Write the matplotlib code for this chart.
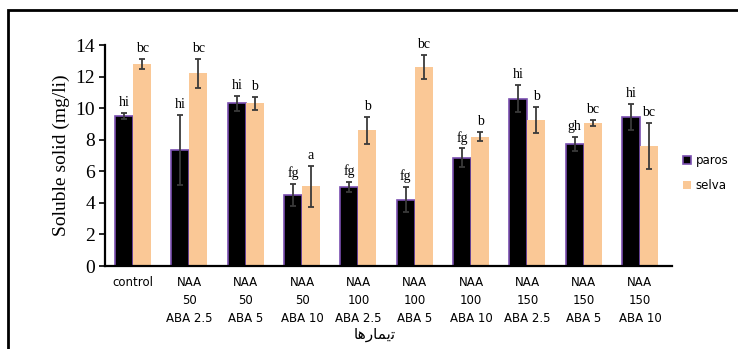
import matplotlib.pyplot as plt
from matplotlib.patches import Rectangle
import numpy as np

# data
treatments = ['control', 'NAA\n50\nABA 2.5', 'NAA\n50\nABA 5', 'NAA\n50\nABA 10',
              'NAA\n100\nABA 2.5', 'NAA\n100\nABA 5', 'NAA\n100\nABA 10',
              'NAA\n150\nABA 2.5', 'NAA\n150\nABA 5', 'NAA\n150\nABA 10']
paros = [9.5, 7.35, 10.3, 4.5, 5.0, 4.2, 6.85, 10.6, 7.75, 9.45]
paros_err = [0.2, 2.2, 0.5, 0.7, 0.3, 0.8, 0.6, 0.85, 0.45, 0.8]
selva = [12.8, 12.2, 10.3, 5.05, 8.6, 12.6, 8.2, 9.25, 9.05, 7.6]
selva_err = [0.3, 0.9, 0.4, 1.3, 0.85, 0.75, 0.3, 0.8, 0.2, 1.45]
paros_lab = ['hi', 'hi', 'hi', 'fg', 'fg', 'fg', 'fg', 'hi', 'gh', 'hi']
selva_lab = ['bc', 'bc', 'b', 'a', 'b', 'bc', 'b', 'b', 'bc', 'bc']

# pre-shaped persian "timarha" (visual order)
xtitle = '\uFE8E\uFEEB\uFEAD\uFE8E\uFEE4\uFBFE\uFE97'

fig = plt.figure(figsize=(7.38, 3.49), dpi=100)
ax = fig.add_axes([0.1423, 0.2378, 0.7683, 0.633])

x = np.arange(len(treatments))
w = 0.32
ekw = dict(ecolor='#3a3a3a', elinewidth=1.3, capsize=2.2, capthick=1.3)
ax.bar(x - w/2, paros, w, color='black', edgecolor='#7a4fb0', linewidth=1.2,
       yerr=paros_err, error_kw=ekw, label='paros', zorder=2)
ax.bar(x + w/2, selva, w, color='#FAC896', edgecolor='none',
       yerr=selva_err, error_kw=ekw, label='selva', zorder=2)

for i in range(len(x)):
    ax.text(x[i] - w/2, paros[i] + paros_err[i] + 0.25, paros_lab[i],
            ha='center', va='bottom', fontsize=10, family='Liberation Serif')
    ax.text(x[i] + w/2, selva[i] + selva_err[i] + 0.25, selva_lab[i],
            ha='center', va='bottom', fontsize=10, family='Liberation Serif')

ax.set_xlim(-0.5, 9.57)
ax.set_ylim(0, 14)
ax.set_yticks(range(0, 15, 2))
ax.set_xticks(x)
ax.set_xticklabels(treatments, fontsize=8.5, family='DejaVu Sans', linespacing=1.5)
ax.tick_params(axis='x', length=0, pad=7)
ax.tick_params(axis='y', length=4, width=1.2, labelsize=14, pad=3)
for t in ax.get_yticklabels():
    t.set_family('Liberation Serif')
ax.set_ylabel('Soluble solid (mg/li)', fontsize=14, family='Liberation Serif', labelpad=4)
ax.spines['top'].set_visible(False)
ax.spines['right'].set_visible(False)
ax.spines['left'].set_linewidth(1.6)
ax.spines['bottom'].set_linewidth(1.6)

leg = ax.legend(loc='center left', bbox_to_anchor=(1.0, 0.42), frameon=False,
                fontsize=8.5, handlelength=0.7, handleheight=0.7, handletextpad=0.4,
                labelspacing=1.0)

fig.text(375/738, 1 - 334/349, xtitle, ha='center', va='center', fontsize=11,
         family=['DejaVu Sans'])

# outer frame
fig.patches.append(Rectangle((8/738, -0.2), 2.0, 1.2 - 10/349, transform=fig.transFigure,
                             fill=False, edgecolor='black', linewidth=2.0))

fig.savefig('out.png', dpi=100)
